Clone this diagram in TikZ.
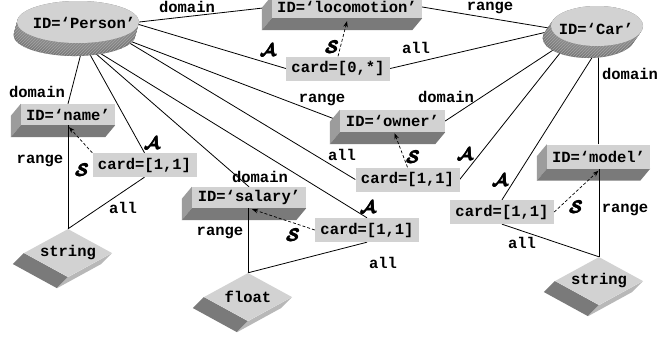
\documentclass[tikz,border=0pt]{standalone}
\usepackage{fontspec}
\setmainfont{Liberation Mono}
\usepackage{amsmath}
\usetikzlibrary{shapes.geometric,calc,arrows.meta,patterns}

\definecolor{facegray}{RGB}{210,210,210}
\definecolor{sidegray}{RGB}{156,156,156}
\definecolor{undergray}{RGB}{122,122,122}
\definecolor{tileside}{RGB}{184,184,184}
\definecolor{discshade}{RGB}{118,118,118}
\definecolor{hatchgray}{RGB}{160,160,160}

\pgfdeclarelayer{paper}
\pgfdeclarelayer{wires}
\pgfdeclarelayer{depth}
\pgfdeclarelayer{front}
\pgfsetlayers{paper,wires,depth,main,front}

\tikzset{
  txt/.style={font=\bfseries\fontsize{15.5}{17}\selectfont, inner sep=0pt},
  boxface/.style={txt, fill=facegray, minimum height=22pt},
  card/.style={txt, fill=facegray, minimum width=104pt, minimum height=24pt},
  tile/.style={txt, diamond, aspect=1.83, fill=facegray, minimum width=88pt, minimum height=48pt},
  disc/.style={ellipse, fill=facegray, inner sep=0pt},
  wire/.style={line width=0.8pt},
  link/.style={line width=0.7pt, dash pattern=on 3pt off 2pt, -{Stealth[length=6pt,width=4.5pt]}},
  symb/.style={font=\fontsize{17}{17}\selectfont, inner sep=0pt},
}

% heavier calligraphic letters: the glyph set several times, slightly offset
\newcommand{\heavy}[1]{\rlap{#1}\kern0.4pt\rlap{#1}\raisebox{0.35pt}{\rlap{#1}}\kern0.4pt#1}
\newcommand{\calA}{\heavy{$\boldsymbol{\mathcal{A}}$}}
\newcommand{\calS}{\heavy{$\boldsymbol{\mathcal{S}}$}}

\begin{document}
\begin{tikzpicture}[x=1pt,y=-1pt]
\useasboundingbox (0,0) rectangle (658,338);
\begin{pgfonlayer}{paper}
  \fill[white] (0,0) rectangle (658,338);
\end{pgfonlayer}

% classes
\node[disc, minimum width=122pt, minimum height=42pt] (person) at (78,22) {};
\node[txt] (persontxt) at (84,23) {ID=‘Person’};
\node[disc, minimum width=92pt, minimum height=40pt] (car) at (597,26) {};
\node[txt] (cartxt) at (596,29) {ID=‘Car’};

% properties
\node[boxface, minimum width=150pt] (loco) at (347,7) {ID=‘locomotion’};
\node[boxface, minimum width=94pt, minimum height=21pt] (name) at (68,114.5) {ID=‘name’};
\node[boxface, minimum width=105pt] (owner) at (392.5,121) {ID=‘owner’};
\node[boxface, minimum width=114pt, minimum height=21pt] (salary) at (249,197.5) {ID=‘salary’};
\node[boxface, minimum width=103pt, minimum height=24pt] (model) at (598.5,156.5) {ID=‘model’};

% cardinality restrictions
\node[card] (c0) at (338,68.5) {card=[0,*]};
\node[card] (cowner) at (407.5,179.5) {card=[1,1]};
\node[card] (cname) at (144.5,165) {card=[1,1]};
\node[card] (csal) at (367,230) {card=[1,1]};
\node[card] (cmodel) at (502,212) {card=[1,1]};

% datatypes
\node[tile] (str1) at (68,253) {string};
\node[tile] (flt) at (248,297) {float};
\node[tile] (str2) at (599,281) {string};

% depth of the solids
\begin{pgfonlayer}{depth}
  \foreach \k in {0,1,...,14} {
    \fill[discshade] ($(person.center)+(-0.25*\k,0.93*\k)$) ellipse[x radius=61pt, y radius=21pt];
  }
  \foreach \k in {0,1,...,14} {
    \fill[pattern=north east lines, pattern color=hatchgray] ($(person.center)+(-0.25*\k,0.93*\k)$) ellipse[x radius=61pt, y radius=21pt];
  }
  \foreach \k in {0,1,...,12} {
    \fill[discshade] ($(car.center)+(-0.7*\k,\k)$) ellipse[x radius=46pt, y radius=20pt];
  }
  \foreach \k in {0,1,...,12} {
    \fill[pattern=north east lines, pattern color=hatchgray] ($(car.center)+(-0.7*\k,\k)$) ellipse[x radius=46pt, y radius=20pt];
  }
  \foreach \n in {loco,name,owner,salary,model} {
    \fill[sidegray] (\n.north west) -- (\n.south west) -- ($(\n.south west)+(-10,12)$) -- ($(\n.north west)+(-10,12)$) -- cycle;
    \fill[undergray] (\n.south west) -- (\n.south east) -- ($(\n.south east)+(-10,12)$) -- ($(\n.south west)+(-10,12)$) -- cycle;
  }
  \foreach \n in {str1,flt,str2} {
    \fill[undergray] (\n.west) -- (\n.south) -- ($(\n.south)+(-11,11)$) -- ($(\n.west)+(-11,11)$) -- cycle;
    \fill[tileside] (\n.south) -- (\n.east) -- ($(\n.east)+(-11,11)$) -- ($(\n.south)+(-11,11)$) -- cycle;
  }
\end{pgfonlayer}

% relations
\begin{pgfonlayer}{wires}
  \draw[wire] (person.east) -- (loco.west);
  \draw[wire] (loco.east) -- ($(car.west)+(-2,2)$);
  \draw[wire] ($(person.east)+(-2,2)$) -- (c0.west);
  \draw[wire] (c0.east) -- ($(car.west)+(-4,6)$);
  \draw[wire] (person.-20) -- (owner.west);
  \draw[wire] (person.-20) -- (cowner.west);
  \draw[wire] (owner.east) -- ($(car.south)+(-32,-4)$);
  \draw[wire] (cowner.east) -- ($(car.south)+(-30,-2)$);
  \draw[wire] (cmodel.north) -- ($(car.south)+(1,2)$);
  \draw[wire] (model.north) -- (model.north |- car.south);
  \draw[wire] (person.-75) -- (name.north);
  \draw[wire] (person.-75) -- (cname.north);
  \draw[wire] (person.-75) -- (salary.north);
  \draw[wire] (person.-75) -- (csal.north);
  \draw[wire] (cname.south) -- (str1.north);
  \draw[wire] (csal.south) -- (flt.north);
  \draw[wire] (cmodel.south) -- (str2.north);
\end{pgfonlayer}

\begin{pgfonlayer}{front}
  \draw[wire] (str1.north) -- (name.south);
  \draw[wire] (flt.north) -- (flt.north |- salary.south);
  \draw[wire] (str2.north) -- (str2.north |- model.south);
  \draw[link] (cname.north west) -- ($(name.south)+(1,2)$);
  \draw[link] (csal.west) -- ($(salary.south)+(3,1)$);
  \draw[link] (cowner.north) -- ($(owner.south)+(2,1)$);
  \draw[link] (c0.north) -- ($(loco.south)+(0,3)$);
  \draw[link] (cmodel.east) -- ($(model.south)+(0,2)$);
\end{pgfonlayer}

% labels
\node[txt] (l1) at (187,7) {domain};
\node[txt] (l2) at (490,7.5) {range};
\node[symb] (a1) at (268,50) {\calA};
\node[symb] (s1) at (332,47) {\calS};
\node[txt] (l3) at (416,48) {all};
\node[txt] (l4) at (322,100) {range};
\node[txt] (l5) at (446,97) {domain};
\node[txt] (l6) at (342,155) {all};
\node[symb] (s2) at (413,157) {\calS};
\node[symb] (a2) at (465,154) {\calA};
\node[txt] (l7) at (630,74) {domain};
\node[symb] (a3) at (500,180) {\calA};
\node[symb] (s3) at (576,207) {\calS};
\node[txt] (l8) at (625,210) {range};
\node[txt] (l9) at (522,243) {all};
\node[txt] (l10) at (37,92) {domain};
\node[symb] (a4) at (152,143) {\calA};
\node[symb] (s4) at (82,170) {\calS};
\node[txt] (l11) at (40,161) {range};
\node[txt] (l12) at (123,208) {all};
\node[txt] (l13) at (260,177) {domain};
\node[symb] (a5) at (368,207) {\calA};
\node[symb] (s5) at (293,235) {\calS};
\node[txt] (l14) at (220,233) {range};
\node[txt] (l15) at (383,263) {all};
\end{tikzpicture}
\end{document}
